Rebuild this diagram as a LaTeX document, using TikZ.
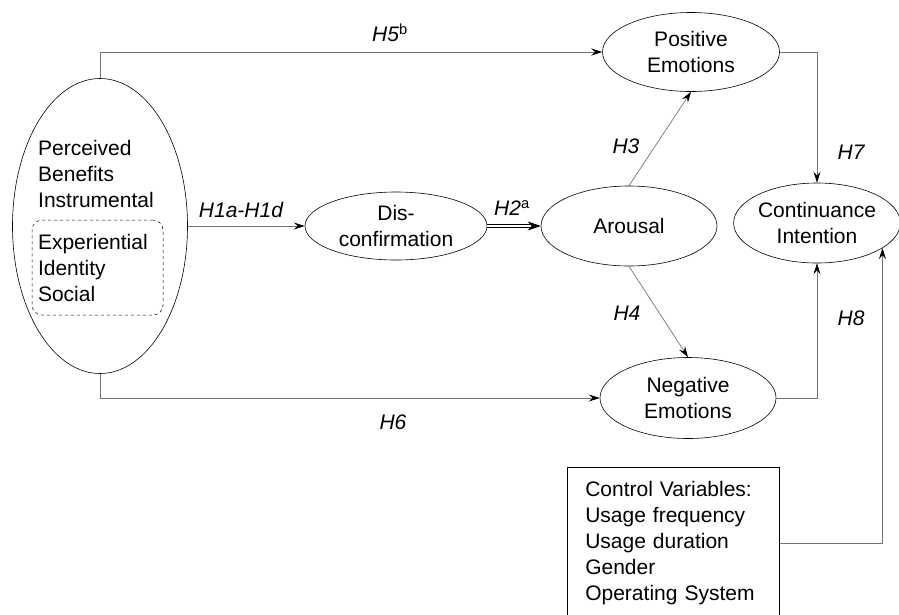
\documentclass[tikz,border=0pt]{standalone}
\usepackage{fontspec}
\setmainfont{Liberation Sans}
\usetikzlibrary{arrows.meta, shapes.geometric}

\begin{document}
\begin{tikzpicture}[
    x=1pt, y=-1pt,
    font=\fontsize{21}{26}\selectfont,
    latent/.style={draw, ellipse, inner sep=0pt, align=center, line width=0.6pt},
    subbox/.style={draw, dashed, rounded corners=10pt, align=left, inner xsep=6pt,
      inner ysep=0pt, text width=119pt, minimum height=95pt, line width=0.5pt},
    ctrlbox/.style={draw, align=left, anchor=north west, text width=176pt,
      inner xsep=18pt, inner ysep=14pt, line width=0.6pt},
    lbl/.style={font=\fontsize{21}{26}\selectfont\itshape},
    arr/.style={draw=black!55, line width=0.7pt,
      -{Stealth[length=11pt, width=7pt, inset=4pt, color=black]}},
    dblarr/.style={draw=black, double=white, double distance=1.8pt, line width=0.7pt,
      -{Stealth[length=13pt, width=9pt, inset=4pt]}}
  ]
  \useasboundingbox (0,0) rectangle (899,614);

  % latent constructs
  \node[latent, minimum width=175pt, minimum height=295pt] (pb) at (100,226) {};
  \node[anchor=west, align=left, inner sep=0pt] (pbt) at (38,174)
    {Perceived\\Benefits\\Instrumental};
  \node[subbox] (pbsub) at (97.5,267.5) {Experiential\\Identity\\Social};
  \node[latent, minimum width=182pt, minimum height=68pt] (disc) at (396,226) {Dis-\\confirmation};
  \node[latent, minimum width=176pt, minimum height=80pt] (aro) at (629,226) {Arousal};
  \node[latent, minimum width=177pt, minimum height=79pt] (pos) at (691,52) {Positive\\Emotions};
  \node[latent, minimum width=176pt, minimum height=81pt] (neg) at (688,398) {Negative\\Emotions};
  \node[latent, minimum width=164pt, minimum height=80pt] (ci) at (817,223) {Continuance\\Intention};
  \node[ctrlbox] (ctrl) at (567,467)
    {Control Variables:\\Usage frequency\\Usage duration\\Gender\\Operating System};

  % paths
  \draw[arr] (pb.north) |- (pos.west);
  \draw[arr] (pb) -- (disc);
  \draw[dblarr] (disc) -- (aro);
  \draw[arr] (aro.north) -- (pos.south);
  \draw[arr] (aro.south) -- (neg.north);
  \draw[arr] (pb.south) |- (neg.west);
  \draw[arr] (pos.east) -| (ci.north);
  \draw[arr] (neg.east) -| (ci.south);
  \draw[arr] (ctrl.east) -| (ci.-21);

  % hypotheses
  \node[lbl] (h5) at (390,33) {H5\textsuperscript{\upshape b}};
  \node[lbl] (h1) at (241,210) {H1a-H1d};
  \node[lbl] (h2) at (512,208) {H2\textsuperscript{\upshape a}};
  \node[lbl] (h3) at (626,146) {H3};
  \node[lbl] (h4) at (627,313) {H4};
  \node[lbl] (h6) at (393,422) {H6};
  \node[lbl] (h7) at (851,152) {H7};
  \node[lbl] (h8) at (851,318) {H8};
\end{tikzpicture}
\end{document}
